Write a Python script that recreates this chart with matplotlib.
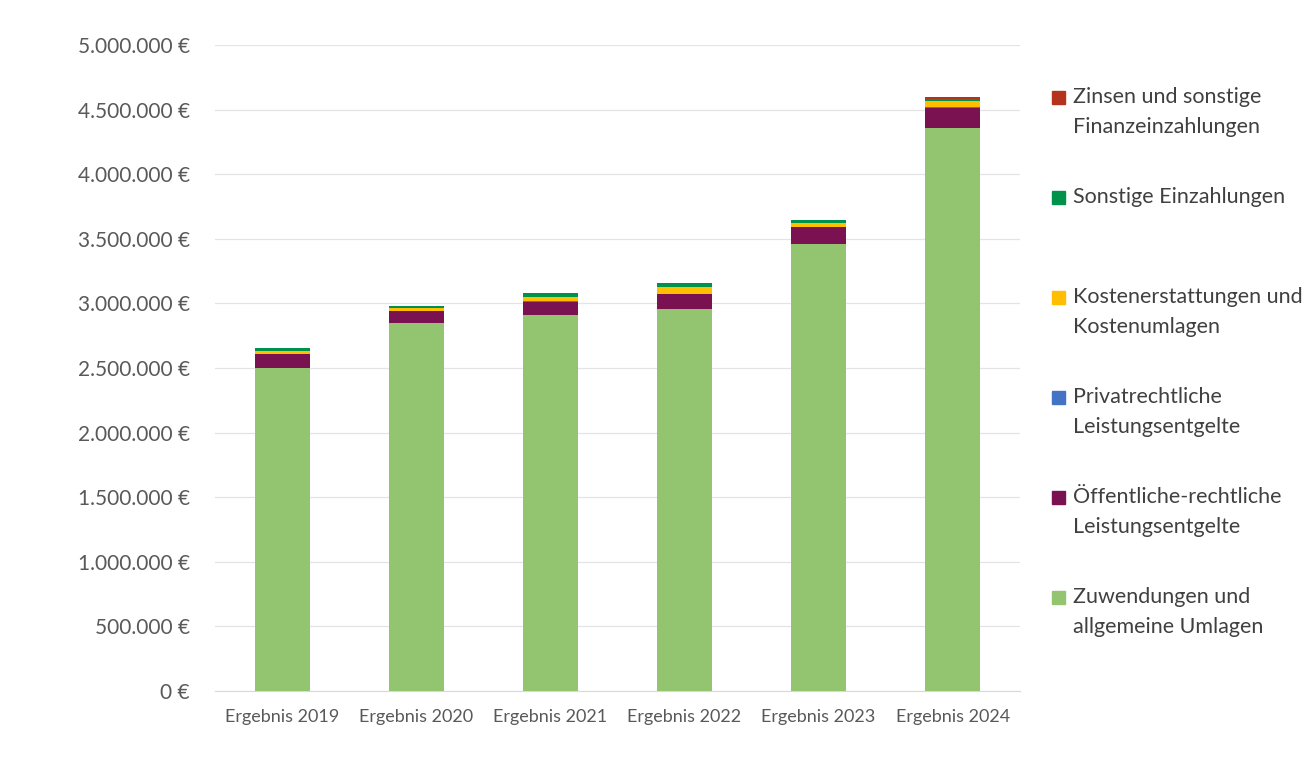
import matplotlib
matplotlib.use("Agg")
import matplotlib.pyplot as plt
from matplotlib.patches import Rectangle
from matplotlib.ticker import FuncFormatter
import numpy as np

plt.rcParams['font.family'] = ['Lato', 'DejaVu Sans']

# Einzahlungen je Jahr (EUR)
jahre = ["Ergebnis 2019", "Ergebnis 2020", "Ergebnis 2021",
         "Ergebnis 2022", "Ergebnis 2023", "Ergebnis 2024"]
zuwendungen = [2502000, 2848000, 2910000, 2954000, 3457000, 4355000]
oeffentlich = [103000, 95000, 103000, 119000, 132000, 160000]
privat = [0, 0, 4000, 0, 0, 6000]
kostenerstattung = [28000, 19000, 30000, 52000, 36000, 42000]
sonstige = [19000, 18000, 31000, 36000, 21000, 22000]
zinsen = [0, 0, 0, 0, 0, 12000]

serien = [
    ("Zuwendungen und\nallgemeine Umlagen", zuwendungen, "#93c571"),
    ("Öffentliche-rechtliche\nLeistungsentgelte", oeffentlich, "#7a1150"),
    ("Privatrechtliche\nLeistungsentgelte", privat, "#4472c4"),
    ("Kostenerstattungen und\nKostenumlagen", kostenerstattung, "#ffbe00"),
    ("Sonstige Einzahlungen", sonstige, "#00924a"),
    ("Zinsen und sonstige\nFinanzeinzahlungen", zinsen, "#b5321c"),
]

fig = plt.figure(figsize=(13.15, 7.6), dpi=100)
ax = fig.add_axes([0.1635, 0.0908, 0.612, 0.85])

x = np.arange(len(jahre))
unten = np.zeros(len(jahre))
for name, werte, farbe in serien:
    ax.bar(x, werte, 0.41, bottom=unten, color=farbe, zorder=3)
    unten += np.array(werte)

ax.set_ylim(0, 5000000)
ax.set_xlim(-0.5, len(jahre) - 0.5)
ax.set_yticks(np.arange(0, 5000001, 500000))
ax.yaxis.set_major_formatter(FuncFormatter(
    lambda v, p: f"{int(v):,}".replace(",", ".") + " €"))
ax.set_xticks(x)
ax.set_xticklabels(jahre)
ax.tick_params(axis="y", length=0, pad=18, labelsize=15, labelcolor="#595959")
ax.tick_params(axis="x", length=0, pad=13, labelsize=13, labelcolor="#595959")
ax.grid(axis="y", color="#e4e4e4", linewidth=0.9, zorder=0)
for s in ["top", "right", "left"]:
    ax.spines[s].set_visible(False)
ax.spines["bottom"].set_color("#d9d9d9")

# Legende rechts, oberster Eintrag zuerst
for i, (name, werte, farbe) in enumerate(reversed(serien)):
    ytop = 1 - (89 + 100 * i) / 760
    fig.add_artist(Rectangle((1052 / 1315, ytop - 15 / 760), 13 / 1315, 13 / 760,
                             transform=fig.transFigure, color=farbe))
    fig.text(1073 / 1315, ytop + 2 / 760, name, va="top", ha="left",
             fontsize=15.5, color="#404040", linespacing=1.6)

fig.savefig("out.png", dpi=100, facecolor="white")
